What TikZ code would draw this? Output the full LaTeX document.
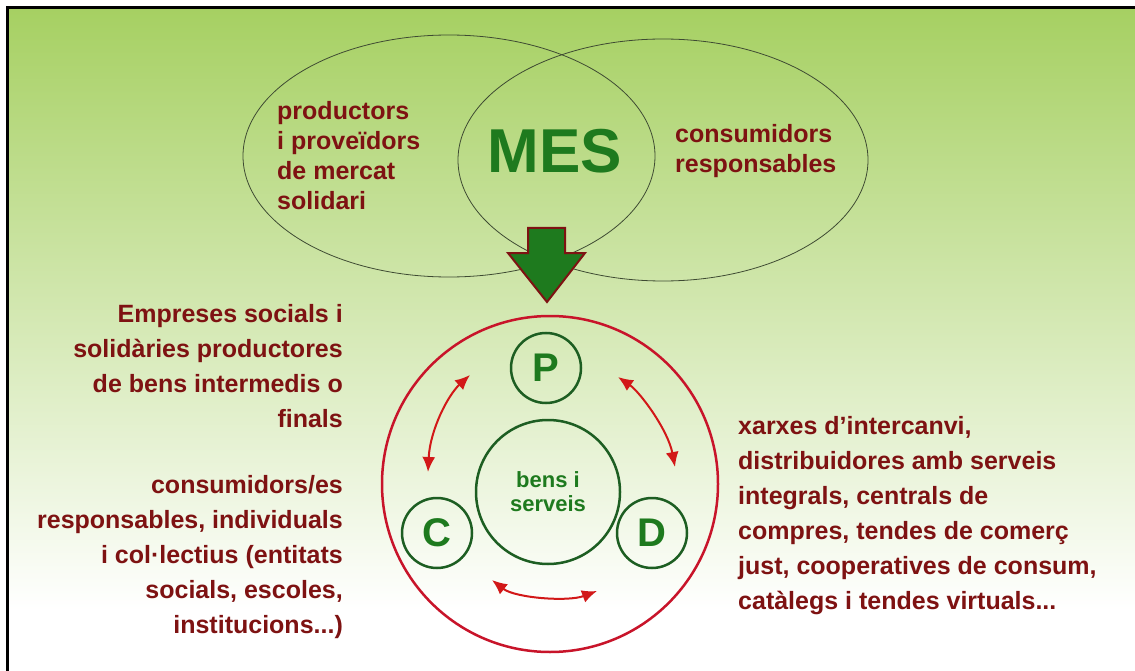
\documentclass[tikz,border=0pt]{standalone}
\usepackage{fontspec}
\setmainfont{Liberation Sans}
\usetikzlibrary{arrows.meta}

\definecolor{maroon}{HTML}{7E1212}
\definecolor{mesgreen}{HTML}{1E7A1E}
\definecolor{ringgreen}{HTML}{1D5E22}
\definecolor{ringred}{HTML}{C8142A}
\definecolor{arrowred}{HTML}{D21818}
\definecolor{topgreen}{HTML}{A6D062}
\definecolor{ellgray}{HTML}{3E4A32}

\begin{document}
\begin{tikzpicture}[x=1pt, y=-1pt,
    maroontext/.style={text=maroon, font=\bfseries\fontsize{25}{35}\selectfont, inner sep=0pt},
    upptext/.style={text=maroon, font=\bfseries\fontsize{25}{30}\selectfont, inner sep=0pt, align=left},
    letter/.style={circle, draw=ringgreen, line width=2.5pt, minimum size=70pt, inner sep=0pt,
        text=mesgreen, font=\bfseries\fontsize{40}{40}\selectfont},
    cycle arrow/.style={arrowred, line width=2pt, {Latex[length=15pt,width=13pt]}-{Latex[length=15pt,width=13pt]}}]
    \useasboundingbox (0,0) rectangle (1135,671);

    % Draw the background and frame
    \fill[white] (0,0) rectangle (1135,671);
    \shade[top color=topgreen, bottom color=white] (7,8) rectangle (1135,610);
    \draw[line width=3pt] (7,671) -- (7,8) -- (1135,8);

    % Draw the two ellipses
    \draw[ellgray, line width=0.8pt] (449,156) ellipse (206 and 121);
    \draw[ellgray, line width=0.8pt] (663,160) ellipse (205 and 121);

    % Add the texts in the ellipses
    \node[upptext, anchor=north west] (prod) at (277,101) {productors\\i proveïdors\\de mercat\\solidari};
    \node[upptext, anchor=north west] (cons) at (675,124) {consumidors\\responsables};
    \node[text=mesgreen, font=\bfseries\fontsize{62}{62}\selectfont, inner sep=0pt] (mes) at (555,151) {MES};

    % Draw the big down arrow
    \filldraw[fill=mesgreen, draw=maroon, line width=2pt]
        (528,228) -- (565,228) -- (565,253) -- (585,253) -- (547,302) -- (508,253) -- (528,253) -- cycle;

    % Draw the red ring and the inner circles
    \draw[ringred, line width=2.5pt] (550,484) circle (168);
    \node[circle, draw=ringgreen, line width=2.5pt, minimum size=144pt, inner sep=0pt,
        text=mesgreen, font=\bfseries\fontsize{22}{24}\selectfont, align=center] (bens) at (548,492) {bens i\\serveis};
    \node[letter] (P) at (546,368) {P};
    \node[letter] (C) at (437,533) {C};
    \node[letter] (D) at (652,533) {D};

    % Draw the double arrows between P, C and D
    \coordinate (pc1) at (470,375);
    \coordinate (pc2) at (428,472);
    \coordinate (pd1) at (618,377);
    \coordinate (pd2) at (675,467);
    \coordinate (cd1) at (492,580);
    \coordinate (cd2) at (597,591);
    \draw[cycle arrow] (pc1) .. controls (448,395) and (430,430) .. (pc2);
    \draw[cycle arrow] (pd1) .. controls (640,392) and (668,430) .. (pd2);
    \draw[cycle arrow] (cd1) .. controls (515,598) and (568,602) .. (cd2);

    % Add the side texts
    \node[maroontext, anchor=north east, align=right] (emp) at (343,304)
        {Empreses socials i\\solidàries productores\\de bens intermedis o\\finals};
    \node[maroontext, anchor=north east, align=right] (consu) at (343,475)
        {consumidors/es\\responsables, individuals\\i col·lectius (entitats\\socials, escoles,\\institucions...)};
    \node[maroontext, anchor=north west, align=left] (xarxes) at (738,416)
        {xarxes d’intercanvi,\\distribuidores amb serveis\\integrals, centrals de\\compres, tendes de comerç\\just, cooperatives de consum,\\catàlegs i tendes virtuals...};
\end{tikzpicture}
\end{document}
